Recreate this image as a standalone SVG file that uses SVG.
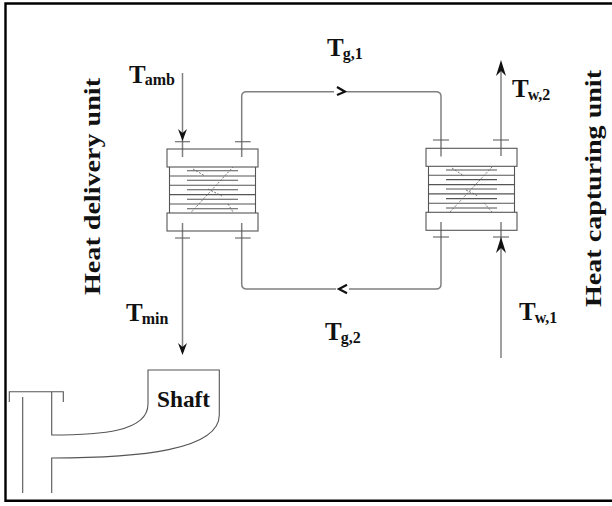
<svg xmlns="http://www.w3.org/2000/svg" width="612" height="506" viewBox="0 0 612 506">
<style>
.l{fill:none;stroke:#555;stroke-width:1.1}
.p{fill:none;stroke:#808080;stroke-width:1.5}
.d{fill:none;stroke:#111;stroke-width:2.2}
.a{fill:#111;stroke:none}
.s{fill:none;stroke:#666;stroke-width:.9;stroke-dasharray:2 1.5}
text{font-family:"Liberation Serif",serif;font-weight:bold;fill:#111}
.t{font-size:25px}
.u{font-size:16px}
.v{font-size:24px}
.h{font-size:23.300px}
</style>
<defs>
<g id="hx">
<rect class="l" x="0" y="0" width="91" height="18"/>
<rect class="l" x="0" y="64" width="91" height="18"/>
<path class="l" d="M2.500 18V64M88.500 18V64"/>
<path class="l" d="M2.500 27H88.500M2.500 36.300H88.500M2.500 45.600H88.500M2.500 55H88.500"/>
<path class="l" d="M20 21.700H71M20 31.300H71M20 40.700H71M20 50.300H71M20 59.700H71"/>
</g>
</defs>
<path d="M612 3.500H5.500V500.700H612" fill="none" stroke="#000" stroke-width="2.400"/>
<g id="connectors">
<path class="p" d="M241.700 157V96.500Q241.700 91.700 246.500 91.700H436Q441 91.700 441 96.500V156.500"/>
<path class="p" d="M241.700 223V284Q241.700 289 246.700 289H436Q441 289 441 284V222"/>
<path d="M334 85H347V98H334Z" fill="#fff"/>
<path d="M336 283H349V295H336Z" fill="#fff"/>
<path class="d" d="M337 87L345 91.700L337 95"/>
<path class="d" d="M347 284.800L339 289L347 293.200"/>
<path class="p" d="M182.500 73V157"/>
<path class="a" d="M182.500 141L178 129L182.500 133L187 129Z"/>
<path class="p" d="M182.500 223V352"/>
<path class="a" d="M182.500 355L178 343L182.500 347L187 343Z"/>
<path class="p" d="M501 156V64"/>
<path class="a" d="M501 60L496 76L501 71L506 76Z"/>
<path class="p" d="M501 358V222"/>
<path class="a" d="M501 237L496 253L501 248L506 253Z"/>
</g>
<g id="heat-delivery-exchanger">
<use href="#hx" x="167" y="149"/>
<path class="s" d="M191.700 211.700L233 167M193 169L205 176M208 189L222 196M228 204L233 212"/>
<path class="l" d="M175 141.700H190M235 141.700H250.700M175 238H190M235 238H250.700"/>
</g>
<g id="heat-capturing-exchanger">
<use href="#hx" x="426" y="148.300"/>
<path class="s" d="M450 212L492 167M452 168L464 176M466 190L478 196M484 203L492 212"/>
<path class="l" d="M433 140H449M493 140H509M433 237H449M493 237H509"/>
</g>
<g id="shaft">
<path class="l" d="M9.300 402V391.700H63.300V402M22.700 397V493M51.700 392V435C100 435 148 432 148 404V370H219.300V415C219.300 450 140 458 51.700 458V493"/>
</g>
<g id="labels">
<text class="t" x="129" y="83">T<tspan class="u" dx="-1" dy="2">amb</tspan></text>
<text class="t" x="327" y="56">T<tspan class="u" dx="-1" dy="3">g,1</tspan></text>
<text class="t" x="512" y="97">T<tspan class="u" dx="-1" dy="3">w,2</tspan></text>
<text class="t" x="126" y="321">T<tspan class="u" dx="-1" dy="3">min</tspan></text>
<text class="t" x="325" y="340">T<tspan class="u" dx="-1" dy="3">g,2</tspan></text>
<text class="t" x="519" y="320">T<tspan class="u" dx="-1" dy="3">w,1</tspan></text>
<text class="h" x="157" y="407">Shaft</text>
<text class="v" transform="translate(99.500 295) rotate(-90)" textLength="217" lengthAdjust="spacingAndGlyphs">Heat delivery unit</text>
<text class="v" transform="translate(600.500 307) rotate(-90)" textLength="237" lengthAdjust="spacingAndGlyphs">Heat capturing unit</text>
</g>
</svg>
